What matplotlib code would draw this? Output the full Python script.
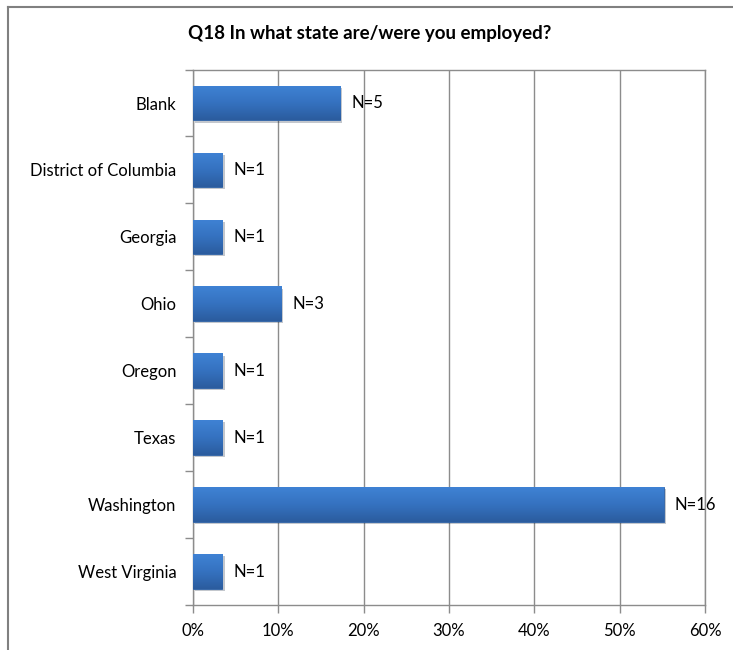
import matplotlib
matplotlib.use("Agg")
import matplotlib.pyplot as plt
import matplotlib.patheffects as pe
import numpy as np

plt.rcParams["font.family"] = ["Lato", "DejaVu Sans"]

states = ["Blank", "District of Columbia", "Georgia", "Ohio", "Oregon",
          "Texas", "Washington", "West Virginia"]
counts = [5, 1, 1, 3, 1, 1, 16, 1]
x_ticks = [0, 10, 20, 30, 40, 50, 60]
x_ticklabels = ["0%", "10%", "20%", "30%", "40%", "50%", "60%"]

total = sum(counts)
pct = [100.0 * c / total for c in counts]

fig = plt.figure(figsize=(7.33, 6.5), dpi=100)
ax = fig.add_axes([0.2633, 0.069, 0.6985, 0.824])

GRID = "#8c8c8c"
y = np.arange(len(states))
bars = ax.barh(y, pct, height=0.52, color="#3570bd", edgecolor="#2f62a6",
               linewidth=0.6, zorder=3,
               path_effects=[pe.SimplePatchShadow(offset=(1.5, -1.5), alpha=0.25),
                             pe.Normal()])

# vertical gradient inside each bar
grad = np.linspace(0, 1, 64).reshape(-1, 1)
cmap = matplotlib.colors.LinearSegmentedColormap.from_list(
    "bar", ["#3f82d4", "#3572c0", "#2b5c9e"])
for b in bars:
    x0, y0 = b.get_x(), b.get_y()
    w, h = b.get_width(), b.get_height()
    im = ax.imshow(grad, extent=(x0, x0 + w, y0 + h, y0), cmap=cmap,
                   aspect="auto", zorder=4, interpolation="bicubic")
    im.set_clip_path(b)

for yi, p, c in zip(y, pct, counts):
    ax.text(p + 1.3, yi, f"N={c}", ha="left", va="center", fontsize=12,
            color="black", zorder=5)

ax.set_xlim(0, 60)
ax.set_ylim(len(states) - 0.5, -0.5)
ax.set_xticks(x_ticks)
ax.set_xticklabels(x_ticklabels, fontsize=12)
ax.set_yticks(y)
ax.set_yticklabels(states, fontsize=12)
ax.tick_params(axis="y", length=0, pad=12)
ax.set_yticks(np.arange(-0.5, len(states)), minor=True)
ax.tick_params(axis="y", which="minor", length=6, color=GRID, width=1)
ax.tick_params(axis="x", length=6, color=GRID, width=1, pad=7)
ax.set_aspect("auto")

ax.grid(axis="x", color=GRID, linewidth=1, zorder=0)
for s in ax.spines.values():
    s.set_color(GRID)
    s.set_linewidth(1)

fig.text(0.505, 0.948, "Q18 In what state are/were you employed?",
         ha="center", va="center", fontsize=13.5, fontweight="bold")

# outer frame
fig.add_artist(plt.Line2D([0.0115, 0.0115], [0, 0.99], transform=fig.transFigure,
                          color="#808080", linewidth=1.5))
fig.add_artist(plt.Line2D([0.0115, 1.0], [0.99, 0.99], transform=fig.transFigure,
                          color="#808080", linewidth=1.5))

fig.savefig("out.png", dpi=100, facecolor="white")
